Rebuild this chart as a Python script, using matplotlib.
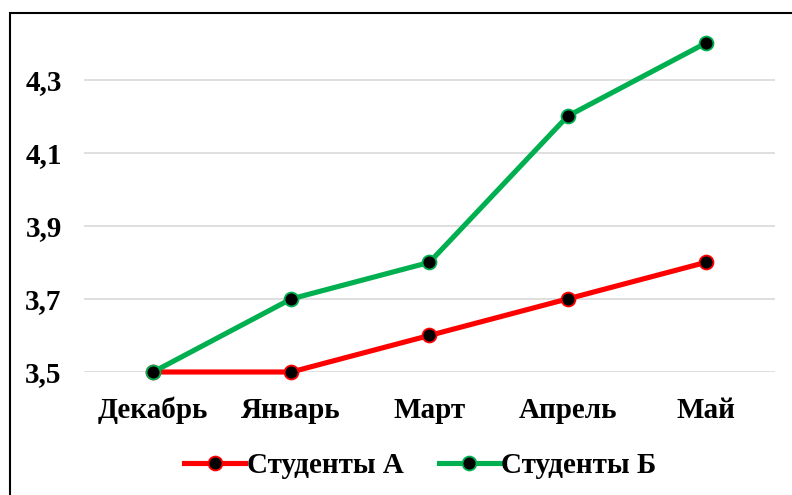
import matplotlib
matplotlib.use('Agg')
import matplotlib.pyplot as plt
from matplotlib.patches import Rectangle

months = ['Декабрь', 'Январь', 'Март', 'Апрель', 'Май']
students_a = [3.5, 3.5, 3.6, 3.7, 3.8]
students_b = [3.5, 3.7, 3.8, 4.2, 4.4]
yticks = [3.5, 3.7, 3.9, 4.1, 4.3]

plt.rcParams['font.family'] = ['Liberation Serif', 'DejaVu Serif']
plt.rcParams['font.weight'] = 'bold'

fig = plt.figure(figsize=(7.92, 4.95), dpi=100)
ax = fig.add_axes([0.106, 0.2485, 0.8725, 0.6645])

x = range(len(months))
ax.plot(x, students_a, color='#ff0000', lw=3.7, marker='o', ms=10,
        mfc='black', mec='#ff0000', mew=1.3, label='Студенты А', clip_on=False, zorder=3)
ax.plot(x, students_b, color='#00b050', lw=3.7, marker='o', ms=10,
        mfc='black', mec='#00b050', mew=1.3, label='Студенты Б', clip_on=False, zorder=4)

ax.set_xlim(-0.5, len(months) - 0.5)
ax.set_ylim(3.5, 4.4)
ax.set_yticks(yticks)
ax.set_yticklabels([f'{v:.1f}'.replace('.', ',') for v in yticks], fontsize=21, fontweight='bold')
ax.set_xticks(list(x))
ax.set_xticklabels(months, fontsize=21, fontweight='bold')
ax.tick_params(length=0)
ax.tick_params(axis='x', pad=18)
ax.tick_params(axis='y', pad=16)
ax.grid(axis='y', color='#d9d9d9', lw=1.2)
ax.set_axisbelow(True)
for s in ax.spines.values():
    s.set_visible(False)

ax.legend(loc='center', bbox_to_anchor=(0.487, -0.285), ncol=2, frameon=False,
          prop={'size': 21, 'weight': 'bold'}, handlelength=2.1, handletextpad=0.05,
          columnspacing=1.2)

fig.patches.append(Rectangle((10 / 792, -0.1), 1.2, 1 - 13 / 495 + 0.1,
                             transform=fig.transFigure, fill=False, ec='black', lw=1.5))

fig.savefig('out.png', dpi=100)
